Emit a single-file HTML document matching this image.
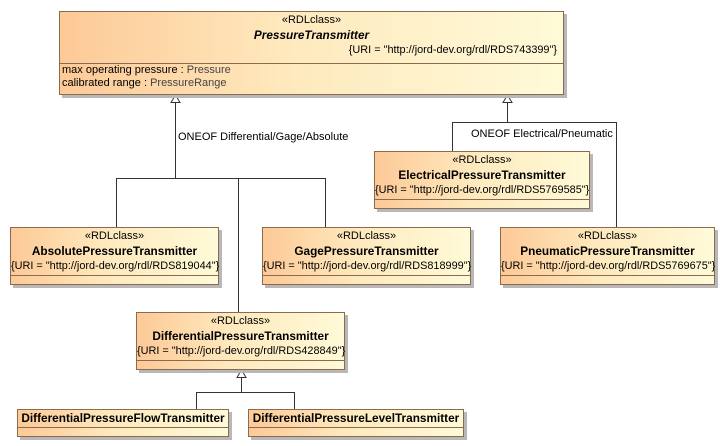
<!DOCTYPE html>
<html><head><style>
body{margin:0;width:724px;height:446px;background:#fff;position:relative;overflow:hidden;font-family:"Liberation Sans",Arial,sans-serif;font-size:11px;color:#000}
.b{position:absolute;border:1px solid #8a6b4e;background:linear-gradient(to right,#fdc997,#fee9bd 45%,#fffad8);box-shadow:3px 3px 0 #b8b8b8;box-sizing:border-box}
.t{position:absolute;left:0;right:0;text-align:center;white-space:nowrap;line-height:13px}
.bold{font-weight:bold;font-size:11.8px}
.u{font-size:10.9px}
.sep{position:absolute;left:0;right:0;border-top:1px solid #8a6b4e}
.lbl{position:absolute;white-space:nowrap;font-size:11px}
</style></head><body>
<svg width="724" height="446" style="position:absolute;left:0;top:0">
<g stroke="#333" fill="none" stroke-width="1">
<path d="M175.5 102V178.5M116.5 227V178.5H325.5V227M238.5 178.5V312"/>
<path d="M507.5 102V122.5M452.5 151V122.5H616.5V227"/>
<path d="M241.5 377V392.5M196.5 409V392.5H294.5V409"/>
</g>
<g stroke="#333" fill="#fff"><path d="M175.5 95L171 102.5H180Z"/><path d="M507.5 95L503 102.5H512Z"/><path d="M241.5 369.5L237 377.5H246Z"/></g>
</svg>
<div class="b" style="left:59px;top:11px;width:505px;height:84px">
<div class="t" style="top:2px">«RDLclass»</div>
<div class="t bold" style="top:17px;font-style:italic">PressureTransmitter</div>
<div class="t u" style="top:32px;text-align:right;right:6px">{URI = "http://jord-dev.org/rdl/RDS743399"}</div>
<div class="sep" style="top:51px"></div>
<div class="lbl" style="left:2px;top:52px;line-height:13px">max operating pressure : <span style="color:#444">Pressure</span><br>calibrated range : <span style="color:#444">PressureRange</span></div>
</div>
<div class="lbl" style="left:178px;top:131px">ONEOF Differential/Gage/Absolute</div>
<div class="lbl" style="left:471px;top:128px">ONEOF Electrical/Pneumatic</div>

<div class="b" style="left:374px;top:151px;width:216px;height:58px">
<div class="t" style="top:2px">«RDLclass»</div><div class="t bold" style="top:17px">ElectricalPressureTransmitter</div>
<div class="t u" style="top:32px">{URI = "http://jord-dev.org/rdl/RDS5769585"}</div><div class="sep" style="top:47px"></div></div>

<div class="b" style="left:10px;top:227px;width:209px;height:58px">
<div class="t" style="top:2px">«RDLclass»</div><div class="t bold" style="top:17px">AbsolutePressureTransmitter</div>
<div class="t u" style="top:32px">{URI = "http://jord-dev.org/rdl/RDS819044"}</div><div class="sep" style="top:47px"></div></div>

<div class="b" style="left:262px;top:227px;width:209px;height:58px">
<div class="t" style="top:2px">«RDLclass»</div><div class="t bold" style="top:17px">GagePressureTransmitter</div>
<div class="t u" style="top:32px">{URI = "http://jord-dev.org/rdl/RDS818999"}</div><div class="sep" style="top:47px"></div></div>

<div class="b" style="left:500px;top:227px;width:215px;height:58px">
<div class="t" style="top:2px">«RDLclass»</div><div class="t bold" style="top:17px">PneumaticPressureTransmitter</div>
<div class="t u" style="top:32px">{URI = "http://jord-dev.org/rdl/RDS5769675"}</div><div class="sep" style="top:47px"></div></div>

<div class="b" style="left:136px;top:312px;width:209px;height:58px">
<div class="t" style="top:2px">«RDLclass»</div><div class="t bold" style="top:17px">DifferentialPressureTransmitter</div>
<div class="t u" style="top:32px">{URI = "http://jord-dev.org/rdl/RDS428849"}</div><div class="sep" style="top:47px"></div></div>

<div class="b" style="left:17px;top:409px;width:212px;height:28px">
<div class="t bold" style="top:2px">DifferentialPressureFlowTransmitter</div><div class="sep" style="top:17px"></div></div>
<div class="b" style="left:248px;top:409px;width:216px;height:28px">
<div class="t bold" style="top:2px">DifferentialPressureLevelTransmitter</div><div class="sep" style="top:17px"></div></div>
</body></html>
